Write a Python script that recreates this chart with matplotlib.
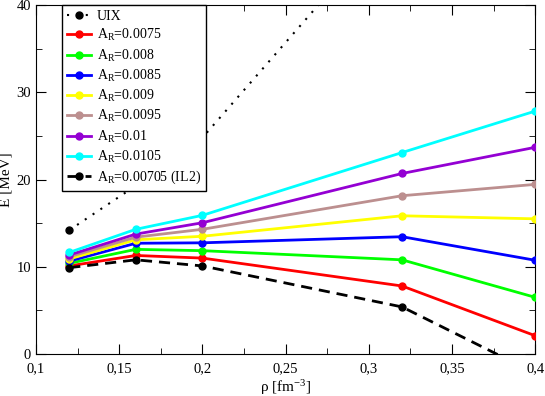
import numpy as np
import matplotlib.pyplot as plt
from matplotlib.ticker import MultipleLocator, FuncFormatter

plt.rcParams['font.family'] = ['Liberation Serif', 'DejaVu Serif']
plt.rcParams['mathtext.fontset'] = 'custom'
plt.rcParams['mathtext.rm'] = 'Liberation Serif'
plt.rcParams['mathtext.it'] = 'Liberation Serif:italic'

rho = [0.12, 0.16, 0.2, 0.32, 0.4]

# energies [MeV]
e_uix = [14.2, 19.3, 24.8, 51.0, 67.0]
e_0075 = [10.1, 11.3, 11.0, 7.8, 2.1]
e_008 = [10.4, 12.0, 11.85, 10.8, 6.5]
e_0085 = [10.65, 12.7, 12.75, 13.45, 10.75]
e_009 = [10.9, 13.1, 13.5, 15.85, 15.5]
e_0095 = [11.15, 13.4, 14.3, 18.15, 19.45]
e_01 = [11.35, 13.75, 15.05, 20.7, 23.7]
e_0105 = [11.65, 14.3, 15.9, 23.1, 27.85]
e_il2 = [9.9, 10.8, 10.1, 5.4, -2.2]

labels = ['UIX', r'A$_\mathrm{R}$=0.0075', r'A$_\mathrm{R}$=0.008', r'A$_\mathrm{R}$=0.0085',
          r'A$_\mathrm{R}$=0.009', r'A$_\mathrm{R}$=0.0095', r'A$_\mathrm{R}$=0.01',
          r'A$_\mathrm{R}$=0.0105', r'A$_\mathrm{R}$=0.00705 (IL2)']
colors = ['black', 'red', '#00ff00', 'blue', '#ffff00', '#bc8f8f', '#9400d3', '#00ffff', 'black']
series = [e_uix, e_0075, e_008, e_0085, e_009, e_0095, e_01, e_0105, e_il2]

fig = plt.figure(figsize=(5.45, 3.96), dpi=100)
ax = fig.add_axes([0.066, 0.106, 0.916, 0.881])

for i in range(len(series)):
  if i == 0:
    ls = (0, (1, 3.5))
    lw = 1.5
  elif i == 8:
    ls = (0, (4, 2.5))
    lw = 2.0
  else:
    ls = '-'
    lw = 2.0
  ax.plot(rho, series[i], color=colors[i], ls=ls, lw=lw, marker='o', ms=5,
          label=labels[i], zorder=3)

ax.set_xlim(0.1, 0.4)
ax.set_ylim(0, 40)
ax.xaxis.set_major_locator(MultipleLocator(0.05))
ax.xaxis.set_minor_locator(MultipleLocator(0.025))
ax.yaxis.set_major_locator(MultipleLocator(10))
ax.yaxis.set_minor_locator(MultipleLocator(5))
ax.xaxis.set_major_formatter(FuncFormatter(lambda v, p: ('%g' % round(v, 3)).replace('.', ',')))
ax.tick_params(which='both', direction='in', top=True, right=True, labelsize=10.5)
ax.tick_params(which='major', length=7)
ax.tick_params(which='minor', length=4)
ax.tick_params(axis='x', pad=6)

ax.set_xlabel(r'$\mathrm{\rho}$ [fm$^{-3}$]', fontsize=11, labelpad=2)
ax.set_ylabel('E [MeV]', fontsize=11)
ax.yaxis.set_label_coords(-0.047, 0.5)

leg = ax.legend(loc='upper left', fontsize=10, frameon=True, fancybox=False,
                edgecolor='black', framealpha=1, handlelength=1.75, handletextpad=0.4,
                labelspacing=0.3, borderaxespad=0.0, borderpad=0.35,
                bbox_to_anchor=(0.052, 1.0))
leg.get_frame().set_linewidth(1.0)
leg.set_zorder(5)

plt.savefig('out.png', dpi=100)
